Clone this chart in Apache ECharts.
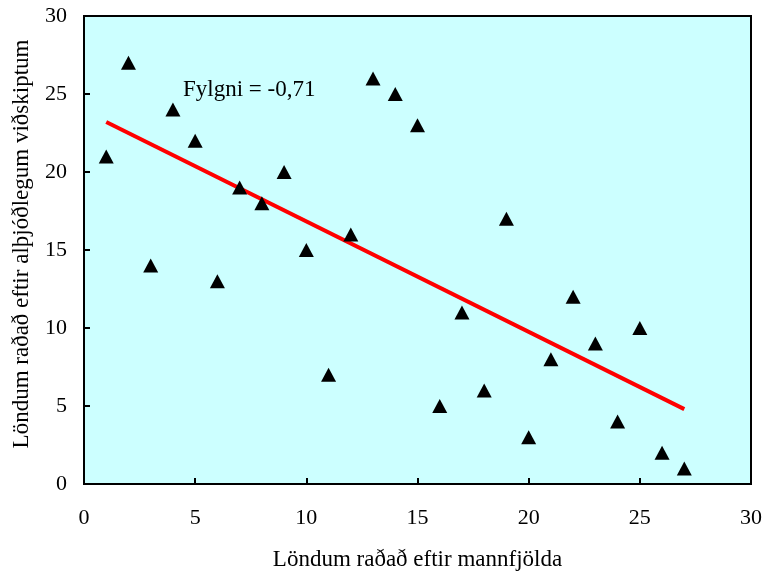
<!DOCTYPE html>
<html>
<head>
<meta charset="utf-8">
<script src="https://cdn.jsdelivr.net/npm/echarts@6/dist/echarts.min.js"></script>
<style>
  html, body { margin: 0; padding: 0; background: #fff; }
  #chart { width: 765px; height: 573px; }
</style>
</head>
<body>
<div id="chart"></div>
<script>
// Population rank (x) vs. international trade rank (y)
const popRank = [1, 2, 3, 4, 5, 6, 7, 8, 9, 10, 11, 12, 13, 14, 15, 16, 17, 18, 19, 20, 21, 22, 23, 24, 25, 26, 27];
const tradeRank = [21, 27, 14, 24, 22, 13, 19, 18, 20, 15, 7, 16, 26, 25, 23, 5, 11, 6, 17, 3, 8, 12, 9, 4, 10, 2, 1];

// Fitted trend line endpoints
const fitX = [1, 27];
const fitY = [23.2, 4.8];

const axisTicks = [0, 5, 10, 15, 20, 25, 30];
const xTitle = 'Löndum raðað eftir mannfjölda';
const yTitle = 'Löndum raðað eftir alþjóðlegum viðskiptum';
const noteText = 'Fylgni = -0,71';

const FONT = '"Liberation Serif", "DejaVu Serif", serif';

const chart = echarts.init(document.getElementById('chart'));

const axisCommon = {
  min: axisTicks[0],
  max: axisTicks[axisTicks.length - 1],
  interval: axisTicks[1] - axisTicks[0],
  splitLine: { show: false },
  axisLine: { show: true, onZero: false, lineStyle: { color: '#000', width: 2 } },
  axisTick: { show: true, inside: true, length: 6, lineStyle: { color: '#000', width: 2 } },
  axisLabel: { color: '#000', fontFamily: FONT, fontSize: 22 },
  nameLocation: 'middle'
};

chart.setOption({
  animation: false,
  grid: {
    left: 84, top: 16, right: 14, bottom: 89,
    containLabel: false,
    outerBoundsMode: 'none',
    show: true,
    backgroundColor: '#CCFFFF',
    borderColor: '#000',
    borderWidth: 2
  },
  xAxis: Object.assign({}, axisCommon, {
    type: 'value',
    name: xTitle,
    nameGap: 64,
    nameTextStyle: { color: '#000', fontFamily: FONT, fontSize: 23 },
    axisLabel: Object.assign({}, axisCommon.axisLabel, { margin: 23 })
  }),
  yAxis: Object.assign({}, axisCommon, {
    type: 'value',
    axisLabel: Object.assign({}, axisCommon.axisLabel, { margin: 17 })
  }),
  graphic: [
    {
      type: 'text',
      left: 183,
      top: 78,
      style: { text: noteText, fill: '#000', font: '23px ' + FONT }
    },
    {
      // vertical axis title, drawn rotated
      type: 'text',
      x: 22,
      y: 244,
      rotation: Math.PI / 2,
      style: {
        text: yTitle, fill: '#000', font: '23px ' + FONT,
        align: 'center', verticalAlign: 'middle'
      }
    }
  ],
  series: [
    {
      type: 'line',
      data: fitX.map((x, i) => [x, fitY[i]]),
      symbol: 'none',
      lineStyle: { color: '#FF0000', width: 4 },
      z: 2
    },
    {
      type: 'scatter',
      data: popRank.map((x, i) => [x, tradeRank[i]]),
      symbol: 'triangle',
      symbolSize: [15, 14],
      itemStyle: { color: '#000', opacity: 1 },
      z: 3
    }
  ]
});
</script>
</body>
</html>
